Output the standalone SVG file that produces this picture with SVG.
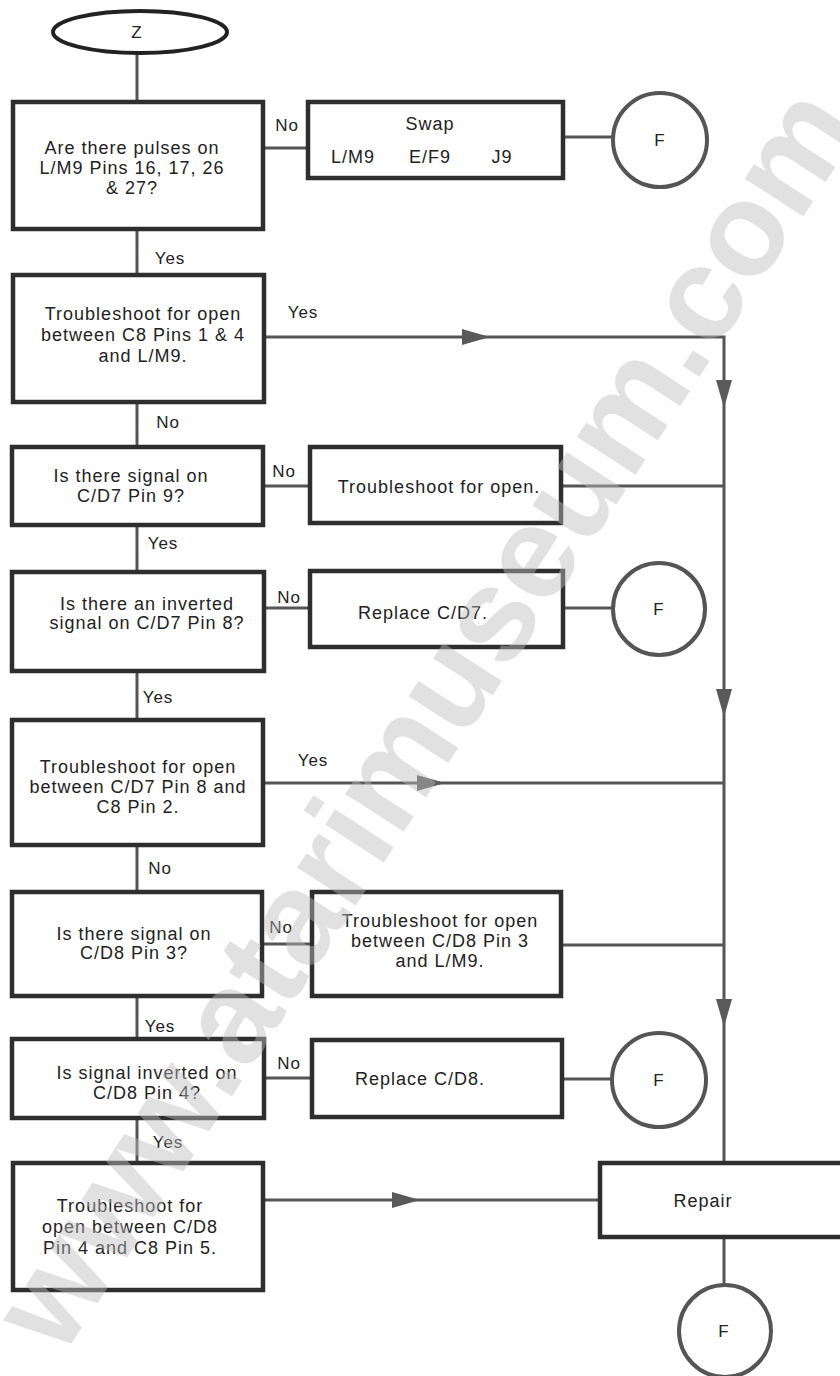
<svg xmlns="http://www.w3.org/2000/svg" xmlns:xlink="http://www.w3.org/1999/xlink" width="840" height="1376" viewBox="0 0 840 1376">
<style>
  .box { fill: none; stroke: #2e2e2e; stroke-width: 4.5; }
  .term { fill: none; stroke: #555; stroke-width: 4; }
  .wire { fill: none; stroke: #555; stroke-width: 3; }
  .ah { fill: #5a5a5a; }
  .t { font-family: "Liberation Sans", Arial, sans-serif; font-size: 18px; letter-spacing: 1px; fill: #222; text-anchor: middle; }
  .lbl { font-family: "Liberation Sans", Arial, sans-serif; font-size: 17px; letter-spacing: 1px; fill: #222; text-anchor: middle; }
  .wm { font-family: "Liberation Sans", Arial, sans-serif; font-size: 132px; font-weight: bold; fill: #bdbdbd; fill-opacity: 0.45; text-anchor: middle; }
</style>
<defs>
  <path id="ah" d="M0,0 L-28,-8 L-28,8 Z"/>
</defs>
<rect x="0" y="0" width="840" height="1376" fill="#ffffff"/>

<g id="connectors">
  <path class="wire" d="M137,53 V102"/>
  <path class="wire" d="M263,148 H308"/>
  <path class="wire" d="M563,137 H613"/>
  <path class="wire" d="M137,230 V275"/>
  <path class="wire" d="M264,337 H724 V1163"/>
  <path class="wire" d="M137,402 V447"/>
  <path class="wire" d="M263,486 H310"/>
  <path class="wire" d="M561,486 H724"/>
  <path class="wire" d="M137,525 V572"/>
  <path class="wire" d="M264,608 H310"/>
  <path class="wire" d="M563,608 H613"/>
  <path class="wire" d="M137,672 V720"/>
  <path class="wire" d="M263,783 H724"/>
  <path class="wire" d="M137,845 V892"/>
  <path class="wire" d="M262,944 H312"/>
  <path class="wire" d="M561,945 H724"/>
  <path class="wire" d="M137,996 V1039"/>
  <path class="wire" d="M264,1078 H312"/>
  <path class="wire" d="M562,1079 H612"/>
  <path class="wire" d="M137,1118 V1163"/>
  <path class="wire" d="M263,1200 H600"/>
  <path class="wire" d="M724,1237 V1285"/>
  <use xlink:href="#ah" class="ah" transform="translate(490,337)"/>
  <use xlink:href="#ah" class="ah" transform="translate(724,408) rotate(90)"/>
  <use xlink:href="#ah" class="ah" transform="translate(724,717) rotate(90)"/>
  <use xlink:href="#ah" class="ah" transform="translate(445,783)"/>
  <use xlink:href="#ah" class="ah" transform="translate(724,1027) rotate(90)"/>
  <use xlink:href="#ah" class="ah" transform="translate(420,1200)"/>
  <text class="lbl" x="287" y="131">No</text>
  <text class="lbl" x="170" y="264">Yes</text>
  <text class="lbl" x="303" y="318">Yes</text>
  <text class="lbl" x="168" y="428">No</text>
  <text class="lbl" x="284" y="477">No</text>
  <text class="lbl" x="163" y="549">Yes</text>
  <text class="lbl" x="289" y="603">No</text>
  <text class="lbl" x="158" y="703">Yes</text>
  <text class="lbl" x="313" y="766">Yes</text>
  <text class="lbl" x="160" y="874">No</text>
  <text class="lbl" x="281" y="933">No</text>
  <text class="lbl" x="160" y="1032">Yes</text>
  <text class="lbl" x="289" y="1069">No</text>
  <text class="lbl" x="168" y="1148">Yes</text>
</g>

<g id="start-z">
  <ellipse cx="140" cy="32" rx="87" ry="21" fill="none" stroke="#222" stroke-width="4"/>
  <text class="lbl" x="137" y="38">Z</text>
</g>

<g id="q-pulses">
  <rect class="box" x="13" y="102" width="250" height="127"/>
  <text class="t" x="132" y="154">Are there pulses on</text>
  <text class="t" x="132" y="174">L/M9 Pins 16, 17, 26</text>
  <text class="t" x="132" y="194">&amp; 27?</text>
</g>

<g id="swap">
  <rect class="box" x="308" y="102" width="255" height="76"/>
  <text class="t" x="430" y="130">Swap</text>
  <text class="t" x="353" y="163">L/M9</text>
  <text class="t" x="430" y="163">E/F9</text>
  <text class="t" x="502" y="163">J9</text>
</g>

<g id="f1">
  <circle class="term" cx="660" cy="140" r="47"/>
  <text class="lbl" x="660" y="146">F</text>
</g>

<g id="ts-c8-lm9">
  <rect class="box" x="13" y="275" width="251" height="127"/>
  <text class="t" x="143" y="320">Troubleshoot for open</text>
  <text class="t" x="143" y="341">between C8 Pins 1 &amp; 4</text>
  <text class="t" x="143" y="362">and L/M9.</text>
</g>

<g id="q-cd7-9">
  <rect class="box" x="12" y="447" width="251" height="78"/>
  <text class="t" x="131" y="482">Is there signal on</text>
  <text class="t" x="131" y="502">C/D7 Pin 9?</text>
</g>

<g id="ts-open">
  <rect class="box" x="310" y="447" width="251" height="76"/>
  <text class="t" x="439" y="493">Troubleshoot for open.</text>
</g>

<g id="q-cd7-8">
  <rect class="box" x="12" y="572" width="252" height="99"/>
  <text class="t" x="147" y="610">Is there an inverted</text>
  <text class="t" x="147" y="629">signal on C/D7 Pin 8?</text>
</g>

<g id="replace-cd7">
  <rect class="box" x="310" y="571" width="253" height="76"/>
  <text class="t" x="423" y="619">Replace C/D7.</text>
</g>

<g id="f2">
  <circle class="term" cx="659" cy="609" r="46"/>
  <text class="lbl" x="659" y="615">F</text>
</g>

<g id="ts-cd7-c8">
  <rect class="box" x="12" y="720" width="251" height="125"/>
  <text class="t" x="138" y="773">Troubleshoot for open</text>
  <text class="t" x="138" y="793">between C/D7 Pin 8 and</text>
  <text class="t" x="138" y="813">C8 Pin 2.</text>
</g>

<g id="q-cd8-3">
  <rect class="box" x="12" y="892" width="250" height="104"/>
  <text class="t" x="134" y="940">Is there signal on</text>
  <text class="t" x="134" y="959">C/D8 Pin 3?</text>
</g>

<g id="ts-cd8-lm9">
  <rect class="box" x="312" y="892" width="249" height="104"/>
  <text class="t" x="440" y="927">Troubleshoot for open</text>
  <text class="t" x="440" y="947">between C/D8 Pin 3</text>
  <text class="t" x="440" y="967">and L/M9.</text>
</g>

<g id="q-cd8-4">
  <rect class="box" x="12" y="1039" width="252" height="79"/>
  <text class="t" x="147" y="1079">Is signal inverted on</text>
  <text class="t" x="147" y="1099">C/D8 Pin 4?</text>
</g>

<g id="replace-cd8">
  <rect class="box" x="312" y="1040" width="250" height="77"/>
  <text class="t" x="420" y="1085">Replace C/D8.</text>
</g>

<g id="f3">
  <circle class="term" cx="659" cy="1080" r="47"/>
  <text class="lbl" x="659" y="1086">F</text>
</g>

<g id="ts-cd8-c8">
  <rect class="box" x="13" y="1163" width="250" height="127"/>
  <text class="t" x="130" y="1212">Troubleshoot for</text>
  <text class="t" x="130" y="1233">open between C/D8</text>
  <text class="t" x="130" y="1254">Pin 4 and C8 Pin 5.</text>
</g>

<g id="repair">
  <rect class="box" x="600" y="1163" width="250" height="74"/>
  <text class="t" x="703" y="1207">Repair</text>
</g>

<g id="f4">
  <circle class="term" cx="725" cy="1331" r="46"/>
  <text class="lbl" x="724" y="1337">F</text>
</g>

<text class="wm" transform="translate(462,742) rotate(-57)">www.atarimuseum.com</text>
</svg>
